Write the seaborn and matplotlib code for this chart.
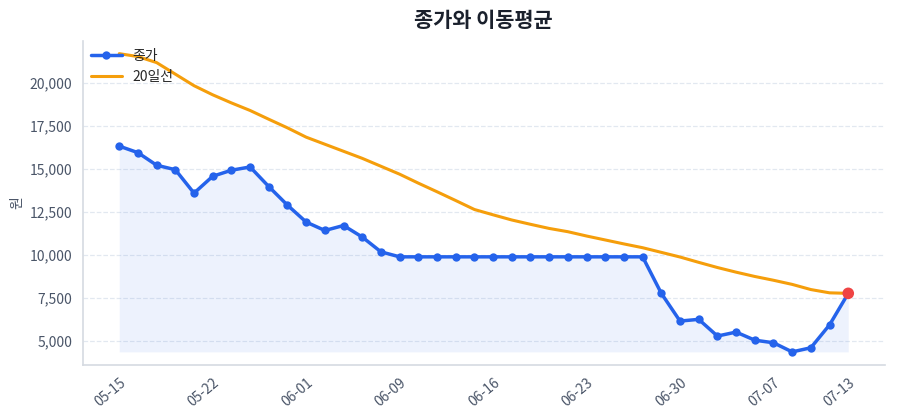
import numpy as np
import pandas as pd
import matplotlib
matplotlib.use("Agg")
import matplotlib.pyplot as plt
from matplotlib.ticker import FuncFormatter
import seaborn as sns

# Data (trading days)
dates = ["05-15", "05-18", "05-19", "05-20", "05-21", "05-22", "05-26", "05-27", "05-28", "05-29",
         "06-01", "06-02", "06-04", "06-05", "06-08", "06-09", "06-10", "06-11", "06-12", "06-15",
         "06-16", "06-17", "06-18", "06-19", "06-22", "06-23", "06-24", "06-25", "06-26", "06-29",
         "06-30", "07-01", "07-02", "07-03", "07-06", "07-07", "07-08", "07-09", "07-10", "07-13"]
close = [16310, 15930, 15200, 14940, 13580, 14560, 14910, 15100, 13960, 12880,
         11900, 11410, 11700, 11030, 10170, 9880, 9880, 9880, 9880, 9880,
         9880, 9880, 9880, 9880, 9880, 9880, 9880, 9880, 9880, 7760,
         6150, 6250, 5280, 5510, 5040, 4890, 4360, 4600, 5930, 7760]
ma20 = [21680, 21510, 21160, 20490, 19820, 19290, 18820, 18380, 17870, 17370,
        16830, 16420, 16010, 15600, 15140, 14680, 14160, 13660, 13150, 12630,
        12320, 12020, 11770, 11530, 11340, 11090, 10860, 10630, 10410, 10140,
        9870, 9560, 9260, 8990, 8740, 8520, 8280, 7980, 7790, 7760]

df = pd.DataFrame({"pos": range(len(dates)), "date": dates, "close": close, "ma20": ma20})

sns.set_theme(style="white")
plt.rcParams["font.family"] = ["Noto Sans CJK KR", "DejaVu Sans"]
plt.rcParams["axes.unicode_minus"] = False

BLUE = "#2563eb"
ORANGE = "#f59e0b"
RED = "#ef4444"
TEXT = "#4a5568"

fig, ax = plt.subplots(figsize=(9, 4.2), dpi=100)
fig.subplots_adjust(left=0.092, right=0.983, top=0.903, bottom=0.131)

ax.fill_between(df["pos"], df["close"], df["close"].min(), color=BLUE, alpha=0.08, linewidth=0)
sns.lineplot(data=df, x="pos", y="close", ax=ax, color=BLUE, linewidth=2.5,
             marker="o", markersize=6, markeredgewidth=0, label="종가")
sns.lineplot(data=df, x="pos", y="ma20", ax=ax, color=ORANGE, linewidth=2.2, label="20일선")
last = df.iloc[[-1]]
sns.scatterplot(data=last, x="pos", y="close", ax=ax, color=RED, s=70, edgecolor="none", zorder=5)

ax.set_title("종가와 이동평균", fontsize=15, fontweight="bold", color="#1a202c", pad=10)
ax.set_xlabel("")
ax.set_ylabel("원", fontsize=10, color=TEXT)
ax.set_ylim(3600, 22430)

tick_pos = list(range(0, len(dates), 5)) + [len(dates) - 1]
ax.set_xticks(tick_pos)
ax.set_xticklabels([dates[i] for i in tick_pos], rotation=40, ha="right", rotation_mode="anchor")
ax.yaxis.set_major_formatter(FuncFormatter(lambda v, p: f"{v:,.0f}"))
ax.tick_params(axis="both", labelsize=10, colors=TEXT, length=4, width=0.8, color="#4a5568")

ax.grid(axis="y", linestyle="--", color="#e2e8f0", linewidth=0.9)
ax.set_axisbelow(True)
sns.despine(ax=ax)
for s in ("left", "bottom"):
    ax.spines[s].set_color("#d5dae1")
    ax.spines[s].set_linewidth(1.2)

ax.legend(loc="upper left", frameon=False, fontsize=10, borderaxespad=0.2, handlelength=2.2)

fig.savefig("out.png", dpi=100)
